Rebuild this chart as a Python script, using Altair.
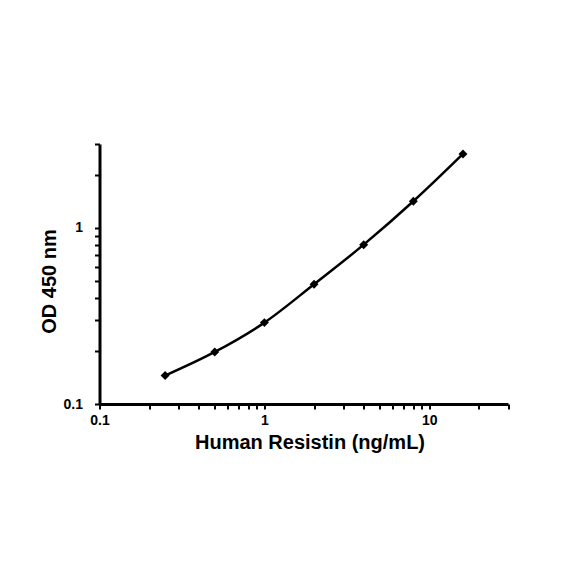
import altair as alt
import pandas as pd

conc = [0.25, 0.5, 1, 2, 4, 8, 16]
od = [0.145, 0.1975, 0.290, 0.479, 0.804, 1.418, 2.634]

x_ticks = [0.1, 0.2, 0.3, 0.4, 0.5, 0.6, 0.7, 0.8, 0.9, 1, 2, 3, 4, 5, 6, 7, 8, 9, 10, 20, 30]
y_ticks = [0.1, 0.2, 0.3, 0.4, 0.5, 0.6, 0.7, 0.8, 0.9, 1, 2, 3]

df = pd.DataFrame({"conc": conc, "od": od})

font = "Liberation Sans"

x_enc = alt.X(
    "conc:Q",
    scale=alt.Scale(type="log", domain=[0.1, 30], nice=False),
    axis=alt.Axis(
        title="Human Resistin (ng/mL)",
        values=x_ticks,
        labelExpr="(datum.value == 0.1 || datum.value == 1 || datum.value == 10) ? format(datum.value, '~g') : ''",
        grid=False,
        domainColor="black",
        domainWidth=3,
        tickColor="black",
        tickWidth=2,
        tickSize=5,
        labelFont=font,
        labelFontWeight="bold",
        labelFontSize=14,
        labelColor="black",
        labelPadding=4,
        labelFlush=False,
        labelOverlap=False,
        titleFont=font,
        titleFontWeight="bold",
        titleFontSize=20,
        titleColor="black",
        titlePadding=5,
        titleX=210,
    ),
)

y_enc = alt.Y(
    "od:Q",
    scale=alt.Scale(type="log", domain=[0.1, 3], nice=False),
    axis=alt.Axis(
        title="OD 450 nm",
        values=y_ticks,
        labelExpr="(datum.value == 0.1 || datum.value == 1) ? format(datum.value, '~g') : ''",
        grid=False,
        domainColor="black",
        domainWidth=3,
        tickColor="black",
        tickWidth=2,
        tickSize=5,
        labelFont=font,
        labelFontWeight="bold",
        labelFontSize=14,
        labelColor="black",
        labelPadding=12,
        labelFlush=False,
        labelOverlap=False,
        titleFont=font,
        titleFontWeight="bold",
        titleFontSize=20,
        titleColor="black",
        titlePadding=4,
        titleY=137,
    ),
)

line = alt.Chart(df).mark_line(color="black", strokeWidth=2.5, interpolate="monotone").encode(x=x_enc, y=y_enc)
pts = alt.Chart(df).mark_point(shape="diamond", filled=True, color="black", size=80, opacity=1).encode(x=x_enc, y=y_enc)

chart = (
    alt.layer(line, pts)
    .properties(
        width=408.5,
        height=260,
        autosize=alt.AutoSizeParams(type="none"),
        padding={"left": 91.5, "top": 136, "right": 60, "bottom": 160},
        view=alt.ViewBackground(stroke=None, strokeOpacity=0),
    )
    .configure_view(stroke=None, strokeOpacity=0, strokeWidth=0)
    .configure(background="white")
)

chart.save("out.html", embed_options={"renderer": "svg", "actions": False})
